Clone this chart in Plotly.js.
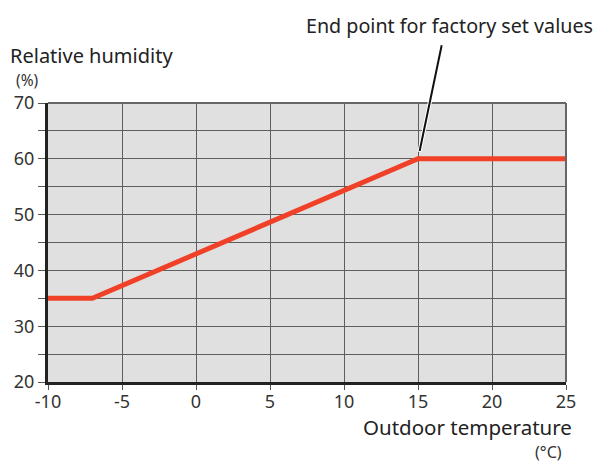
<!DOCTYPE html>
<html>
<head>
<meta charset="utf-8">
<script src="https://cdn.plot.ly/plotly-3.0.1.min.js"></script>
<style>html,body{margin:0;padding:0;background:#fff;}#chart{width:600px;height:462px;}</style>
</head>
<body>
<div id="chart"></div>
<script>
const outdoorTemp = [-10, -7, 15, 25];
const humidity = [35, 35, 60, 60];
const xTickVals = [-10, -5, 0, 5, 10, 15, 20, 25];
const xTickText = ['-10', '-5', '0', '5', '10', '15', '20', '25'];
const yTickVals = [20, 25, 30, 35, 40, 45, 50, 55, 60, 65, 70];
const yTickText = ['20', '', '30', '', '40', '', '50', '', '60', '', '70'];

const font = 'Noto Sans, Open Sans, sans-serif';

const trace = {
  x: outdoorTemp, y: humidity, type: 'scatter', mode: 'lines',
  line: {color: '#f04128', width: 5}, hoverinfo: 'skip', cliponaxis: false
};

const layout = {
  width: 600, height: 462,
  margin: {l: 48, r: 34, t: 103, b: 80},
  paper_bgcolor: '#ffffff', plot_bgcolor: '#e0e0e0',
  showlegend: false,
  font: {family: font, color: '#222', size: 18},
  xaxis: {
    range: [-10, 25], tickvals: xTickVals, ticktext: xTickText,
    showgrid: true, gridcolor: '#5e5e5e', gridwidth: 1, zeroline: false,
    showline: true, linecolor: '#222', linewidth: 3,
    ticks: 'outside', ticklen: 5, tickcolor: '#555', tickwidth: 1,
    ticklabelstandoff: -4,
    tickfont: {family: font, size: 18, color: '#333'}, fixedrange: true
  },
  yaxis: {
    range: [20, 70], tickvals: yTickVals, ticktext: yTickText,
    showgrid: true, gridcolor: '#5e5e5e', gridwidth: 1, zeroline: false,
    showline: true, linecolor: '#222', linewidth: 3,
    ticks: 'outside', ticklen: 7, tickcolor: '#555', tickwidth: 1,
    tickfont: {family: font, size: 18, color: '#333'}, fixedrange: true
  },
  shapes: [
    {type: 'line', xref: 'paper', yref: 'paper', x0: 0, x1: 1, y0: 1, y1: 1, line: {color: '#666', width: 2}},
    {type: 'line', xref: 'paper', yref: 'paper', x0: 1, x1: 1, y0: 0, y1: 1, line: {color: '#666', width: 2}}
  ],
  annotations: [
    {xref: 'paper', yref: 'paper', x: -0.075, y: 1.17, xanchor: 'left', yanchor: 'middle', borderpad: 0,
     text: 'Relative humidity', showarrow: false, font: {family: font, size: 20, color: '#222'}},
    {xref: 'paper', yref: 'paper', x: -0.064, y: 1.084, xanchor: 'left', yanchor: 'middle', borderpad: 0,
     text: '(%)', showarrow: false, font: {family: font, size: 15.5, color: '#333'}},
    {xref: 'paper', yref: 'paper', x: 1.016, y: -0.161, xanchor: 'right', yanchor: 'middle',
     text: 'Outdoor temperature', showarrow: false, font: {family: font, size: 20.5, color: '#222'}},
    {xref: 'paper', yref: 'paper', x: 0.997, y: -0.25, xanchor: 'right', yanchor: 'middle',
     text: '(°C)', showarrow: false, font: {family: font, size: 16, color: '#333'}},
    {xref: 'paper', yref: 'paper', x: 0.776, y: 1.279, xanchor: 'center', yanchor: 'middle',
     text: 'End point for factory set values', showarrow: false, font: {family: font, size: 19.7, color: '#222'}},
    {x: 15, y: 60, xref: 'x', yref: 'y', text: '', showarrow: true, arrowhead: 0,
     arrowwidth: 4, arrowcolor: '#ffffff', ax: 24, ay: -115, standoff: 7},
    {x: 15, y: 60, xref: 'x', yref: 'y', text: '', showarrow: true, arrowhead: 0,
     arrowwidth: 2, arrowcolor: '#111', ax: 24, ay: -115, standoff: 8}
  ]
};

Plotly.newPlot('chart', [trace], layout, {displayModeBar: false, staticPlot: true});
</script>
</body>
</html>
